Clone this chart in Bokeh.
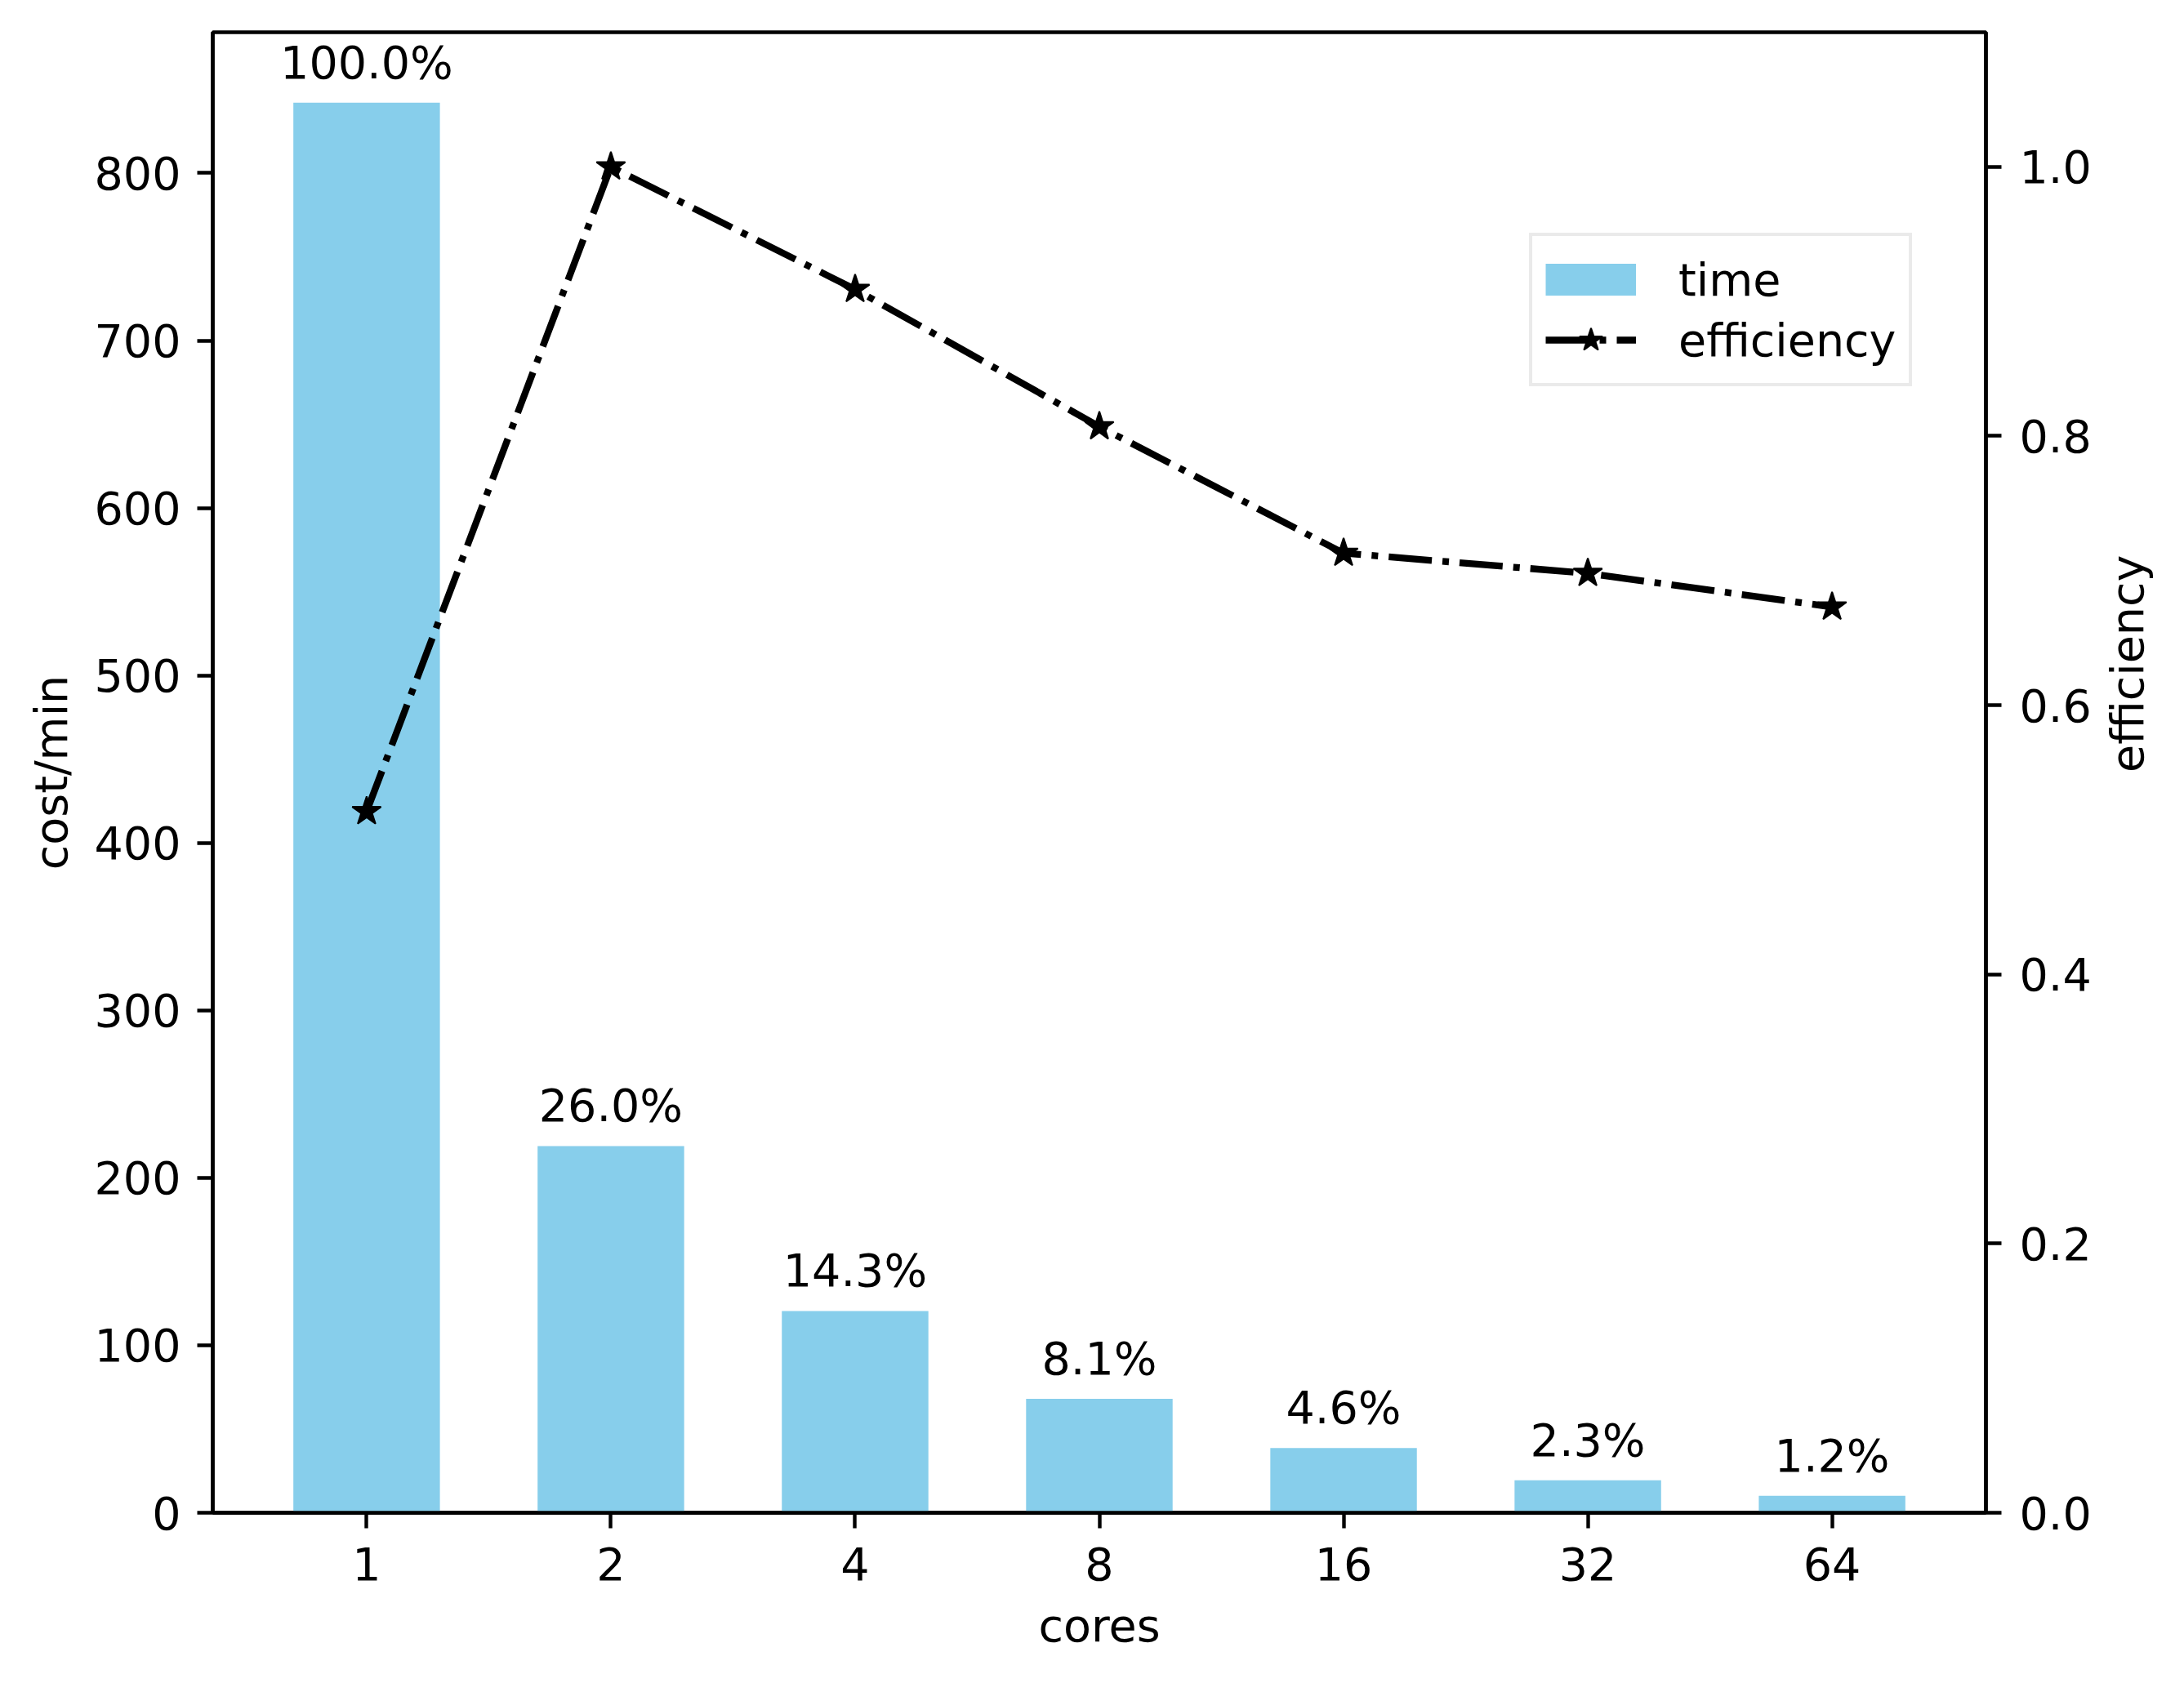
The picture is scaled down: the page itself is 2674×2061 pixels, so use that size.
import math
from bokeh.plotting import figure
from bokeh.models import Range1d, LinearAxis, FixedTicker, PrintfTickFormatter, Legend, LegendItem
from bokeh.core.properties import value
from bokeh.embed import file_html
from bokeh.resources import INLINE

# ---- data ----
cores = ["1", "2", "4", "8", "16", "32", "64"]
time_cost = [842, 219, 120.5, 68, 38.7, 19.4, 10.1]
time_pct = ["100.0%", "26.0%", "14.3%", "8.1%", "4.6%", "2.3%", "1.2%"]
efficiency = [0.521, 1.0, 0.909, 0.807, 0.713, 0.698, 0.673]
left_ticks = [0, 100, 200, 300, 400, 500, 600, 700, 800]
right_ticks = [0.0, 0.2, 0.4, 0.6, 0.8, 1.0]

xpos = list(range(len(cores)))

FONT = "DejaVu Sans"
FS = "55.5px"
LW = 4.4
BAR_COLOR = "#87CEEB"

p = figure(width=2658, height=2045, output_backend="svg", toolbar_location=None,
           x_range=Range1d(-0.63, 6.63), y_range=Range1d(0, 884.1),
           frame_width=2171, frame_height=1813,
           min_border_left=260, min_border_right=227, min_border_top=39, min_border_bottom=193)
p.extra_y_ranges = {"eff": Range1d(0, 1.1)}
p.background_fill_color = "white"
p.border_fill_color = "white"
p.outline_line_color = "black"
p.outline_line_width = LW
p.xgrid.visible = False
p.ygrid.visible = False

bars = p.vbar(x=xpos, top=time_cost, width=0.6, bottom=0, fill_color=BAR_COLOR, line_color=None)
p.text(x=xpos, y=time_cost, text=time_pct, text_align="center", text_baseline="bottom",
       y_offset=-17, text_font=value(FONT), text_font_size=FS, text_color="black")

ln = p.line(x=xpos, y=efficiency, y_range_name="eff", line_color="black", line_width=8.3,
            line_dash="53 13 8 13")
st = p.scatter(x=xpos, y=efficiency, y_range_name="eff", marker="star", size=37,
               fill_color="black", line_color="black", line_width=2)

# legend-only proxy for the bar patch: a single-point line draws nothing in the plot,
# but its legend entry is a thick 111x39 patch
bar_proxy = p.line(x=xpos[:1], y=time_cost[:1], line_color=BAR_COLOR, line_width=39)

def style_axis(ax):
    ax.axis_line_width = LW
    ax.axis_line_color = "black"
    ax.major_tick_line_width = LW
    ax.major_tick_out = 19
    ax.major_tick_in = 0
    ax.minor_tick_out = 0
    ax.minor_tick_in = 0
    ax.major_label_text_font = FONT
    ax.major_label_text_font_size = FS
    ax.major_label_text_color = "black"
    ax.axis_label_text_font = FONT
    ax.axis_label_text_font_size = FS
    ax.axis_label_text_font_style = "normal"
    ax.axis_label_text_color = "black"

xa = p.xaxis[0]
style_axis(xa)
xa.ticker = FixedTicker(ticks=xpos)
xa.major_label_overrides = {i: c for i, c in zip(xpos, cores)}
xa.axis_label = "cores"
xa.major_label_standoff = 23
xa.axis_label_standoff = 20

ya = p.yaxis[0]
style_axis(ya)
ya.ticker = FixedTicker(ticks=left_ticks)
ya.axis_label = "cost/min"
ya.major_label_standoff = 20
ya.axis_label_standoff = 18

ra = LinearAxis(y_range_name="eff")
style_axis(ra)
ra.ticker = FixedTicker(ticks=right_ticks)
ra.formatter = PrintfTickFormatter(format="%.1f")
ra.axis_label = "efficiency"
ra.major_label_standoff = 22
ra.axis_label_standoff = 41
ra.axis_label_orientation = math.pi / 2
p.add_layout(ra, "right")

legend = Legend(items=[LegendItem(label="time", renderers=[bar_proxy]),
                       LegendItem(label="efficiency", renderers=[ln, st])],
                location=(1612, 1379), margin=0, padding=16, spacing=0,
                glyph_width=111, glyph_height=74, label_standoff=52,
                label_text_font=FONT, label_text_font_size=FS, label_text_color="black",
                border_line_color="#d6d6d6", border_line_width=LW,
                background_fill_color="white", background_fill_alpha=1.0)
p.add_layout(legend, "center")

open("out.html", "w").write(file_html(p, INLINE))
